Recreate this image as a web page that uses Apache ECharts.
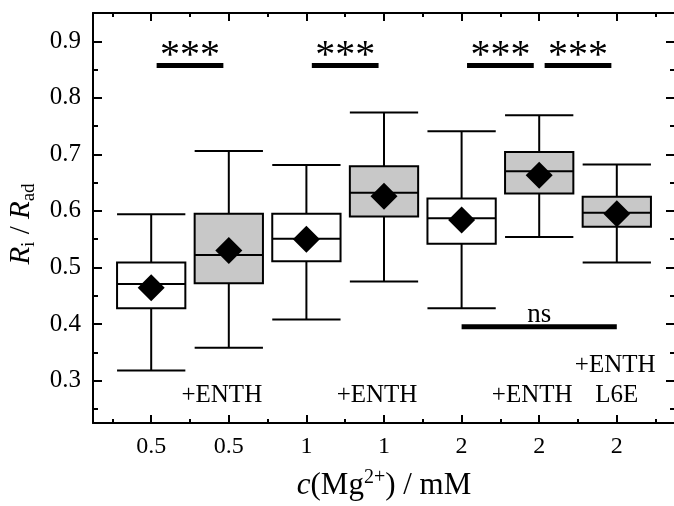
<!DOCTYPE html>
<html>
<head>
<meta charset="utf-8">
<script src="https://cdn.jsdelivr.net/npm/echarts@6/dist/echarts.min.js"></script>
<style>
  html, body { margin: 0; padding: 0; background: #fff; }
  #chart { width: 674px; height: 506px; }
</style>
</head>
<body>
<div id="chart"></div>
<script>
  // 类别与位置
  var catLabels = ['0.5', '0.5', '1', '1', '2', '2', '2'];
  var catPos = [1, 2, 3, 4, 5, 6, 7];
  var withEnth = [0, 1, 0, 1, 0, 1, 1];

  // 箱线图数值
  var whiskerLow = [0.318, 0.358, 0.408, 0.475, 0.428, 0.554, 0.509];
  var q1 = [0.428, 0.472, 0.511, 0.590, 0.542, 0.631, 0.572];
  var median = [0.471, 0.522, 0.551, 0.632, 0.587, 0.670, 0.597];
  var q3 = [0.509, 0.595, 0.595, 0.679, 0.622, 0.704, 0.625];
  var whiskerHigh = [0.594, 0.706, 0.681, 0.774, 0.741, 0.769, 0.682];
  var means = [0.464, 0.530, 0.550, 0.626, 0.584, 0.663, 0.595];

  // 刻度
  var yMajor = [0.3, 0.4, 0.5, 0.6, 0.7, 0.8, 0.9];
  var yMinor = [0.25, 0.35, 0.45, 0.55, 0.65, 0.75, 0.85];
  var xMinor = [0.5, 1.5, 2.5, 3.5, 4.5, 5.5, 6.5, 7.5];

  // 显著性标记
  var sigFrom = [1.07, 3.07, 5.07, 6.07, 5.0];
  var sigTo = [1.93, 3.93, 5.93, 6.93, 7.0];
  var sigY = [0.857, 0.857, 0.857, 0.857, 0.395];
  var sigText = ['***', '***', '***', '***', 'ns'];

  // 文字注释
  var noteX = [1.91, 3.91, 5.91, 6.98, 7.0];
  var noteY = [0.274, 0.274, 0.274, 0.327, 0.274];
  var noteText = ['+ENTH', '+ENTH', '+ENTH', '+ENTH', 'L6E'];

  var FONT = 'Liberation Serif';
  var boxWidth = 0.88;

  var boxData = catPos.map(function (p, i) {
    return [p, whiskerLow[i], q1[i], median[i], q3[i], whiskerHigh[i], withEnth[i]];
  });
  var meanData = catPos.map(function (p, i) { return [p, means[i]]; });
  var sigData = sigFrom.map(function (x1, i) { return [x1, sigTo[i], sigY[i], sigText[i]]; });
  var noteData = noteX.map(function (x, i) { return [x, noteY[i], noteText[i]]; });

  function renderBox(params, api) {
    var x = api.value(0);
    var lo = api.coord([x, api.value(1)]);
    var b1 = api.coord([x, api.value(2)]);
    var md = api.coord([x, api.value(3)]);
    var b3 = api.coord([x, api.value(4)]);
    var hi = api.coord([x, api.value(5)]);
    var hw = api.size([boxWidth, 0])[0] / 2;
    var cx = md[0];
    var ls = { stroke: '#000', lineWidth: 2, fill: null };
    return {
      type: 'group',
      children: [
        { type: 'line', shape: { x1: cx, y1: hi[1], x2: cx, y2: b3[1] }, style: ls },
        { type: 'line', shape: { x1: cx, y1: b1[1], x2: cx, y2: lo[1] }, style: ls },
        { type: 'line', shape: { x1: cx - hw, y1: hi[1], x2: cx + hw, y2: hi[1] }, style: ls },
        { type: 'line', shape: { x1: cx - hw, y1: lo[1], x2: cx + hw, y2: lo[1] }, style: ls },
        {
          type: 'rect',
          shape: { x: cx - hw, y: b3[1], width: hw * 2, height: b1[1] - b3[1] },
          style: { stroke: '#000', lineWidth: 2, fill: api.value(6) ? '#c8c8c8' : '#fff' }
        },
        { type: 'line', shape: { x1: cx - hw, y1: md[1], x2: cx + hw, y2: md[1] }, style: ls }
      ]
    };
  }

  function renderSig(params, api) {
    var a = api.coord([api.value(0), api.value(2)]);
    var b = api.coord([api.value(1), api.value(2)]);
    var txt = sigData[params.dataIndex][3];
    var isStar = txt === '***';
    return {
      type: 'group',
      children: [
        { type: 'rect', shape: { x: a[0], y: a[1] - 2.5, width: b[0] - a[0], height: 5 }, style: { fill: '#000' } },
        {
          type: 'text',
          x: (a[0] + b[0]) / 2,
          y: a[1] + (isStar ? -9 : -12),
          style: {
            text: txt, fill: '#000', fontFamily: FONT,
            fontSize: isStar ? 40 : 27,
            align: 'center', verticalAlign: 'middle'
          }
        }
      ]
    };
  }

  function renderNote(params, api) {
    var p = api.coord([api.value(0), api.value(1)]);
    return {
      type: 'text', x: p[0], y: p[1],
      style: {
        text: noteData[params.dataIndex][2], fill: '#000', fontFamily: FONT,
        fontSize: 25, align: 'center', verticalAlign: 'middle'
      }
    };
  }

  var tickStyle = { color: '#000', width: 2 };
  var lineStyle = { color: '#000', width: 2 };

  function xAxisDef(pos, ticks, len, showLine, showLabel) {
    return {
      type: 'value', position: pos, min: 0.25, max: 7.75,
      axisLine: { show: showLine, onZero: false, lineStyle: lineStyle },
      splitLine: { show: false },
      axisTick: { show: true, inside: true, length: len, customValues: ticks, lineStyle: tickStyle },
      axisLabel: showLabel ? {
        customValues: catPos,
        formatter: function (v) { return catLabels[Math.round(v) - 1]; },
        margin: 12, fontSize: 24, color: '#000', fontFamily: FONT
      } : { show: false }
    };
  }
  function yAxisDef(pos, ticks, len, showLine, showLabel) {
    return {
      type: 'value', position: pos, min: 0.225, max: 0.95,
      axisLine: { show: showLine, onZero: false, lineStyle: lineStyle },
      splitLine: { show: false },
      axisTick: { show: true, inside: true, length: len, customValues: ticks, lineStyle: tickStyle },
      axisLabel: showLabel ? {
        customValues: yMajor,
        formatter: function (v) { return v.toFixed(1); },
        margin: 12, fontSize: 25, color: '#000', fontFamily: FONT
      } : { show: false }
    };
  }

  var xMain = xAxisDef('bottom', catPos, 8, true, true);
  xMain.name = '{i|c}(Mg{sup|2+}) / mM';
  xMain.nameLocation = 'middle';
  xMain.nameGap = 45;
  xMain.nameTextStyle = {
    fontFamily: FONT, fontSize: 31, color: '#000', lineHeight: 36,
    rich: {
      i: { fontFamily: FONT, fontSize: 31, fontStyle: 'italic', color: '#000', lineHeight: 36 },
      sup: { fontFamily: FONT, fontSize: 20, color: '#000', lineHeight: 10, verticalAlign: 'top' }
    }
  };

  var yMain = yAxisDef('left', yMajor, 9, true, true);
  yMain.name = '{i|R}{sub|i} / {i|R}{sub|ad}';
  yMain.nameLocation = 'middle';
  yMain.nameRotate = 90;
  yMain.nameGap = 52;
  yMain.nameTextStyle = {
    fontFamily: FONT, fontSize: 29, color: '#000', lineHeight: 34,
    padding: [0, 12, 0, 0],
    rich: {
      i: { fontFamily: FONT, fontSize: 29, fontStyle: 'italic', color: '#000', lineHeight: 34 },
      sub: { fontFamily: FONT, fontSize: 19, color: '#000', lineHeight: 16, verticalAlign: 'bottom' }
    }
  };

  var chart = echarts.init(document.getElementById('chart'));
  chart.setOption({
    animation: false,
    backgroundColor: '#fff',
    grid: { left: 93, top: 13, width: 582, height: 410, containLabel: false, outerBoundsMode: 'none' },
    xAxis: [
      xMain,
      xAxisDef('bottom', xMinor, 4, false, false),
      xAxisDef('top', catPos, 8, true, false),
      xAxisDef('top', xMinor, 4, false, false)
    ],
    yAxis: [
      yMain,
      yAxisDef('left', yMinor, 5, false, false),
      yAxisDef('right', yMajor, 9, true, false),
      yAxisDef('right', yMinor, 5, false, false)
    ],
    series: [
      { type: 'custom', renderItem: renderBox, data: boxData, xAxisIndex: 0, yAxisIndex: 0, z: 2 },
      {
        type: 'scatter', data: meanData, xAxisIndex: 0, yAxisIndex: 0, z: 3,
        symbol: 'diamond', symbolSize: 27, itemStyle: { color: '#000', opacity: 1 }
      },
      { type: 'custom', renderItem: renderSig, data: sigData, xAxisIndex: 0, yAxisIndex: 0, z: 4 },
      { type: 'custom', renderItem: renderNote, data: noteData, xAxisIndex: 0, yAxisIndex: 0, z: 4 }
    ]
  });
</script>
</body>
</html>
